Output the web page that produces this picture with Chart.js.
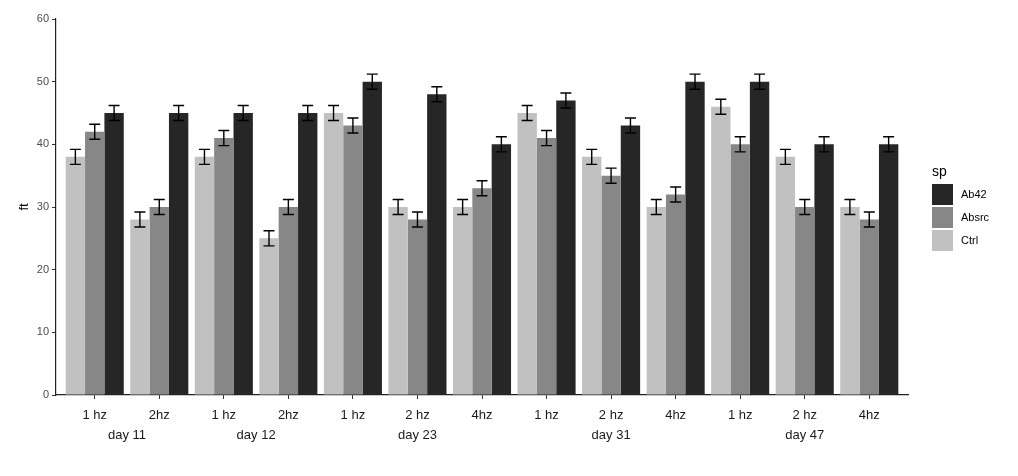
<!DOCTYPE html>
<html>
<head>
<meta charset="utf-8">
<script src="https://cdn.jsdelivr.net/npm/chart.js@4/dist/chart.umd.min.js"></script>
<style>
  html, body { margin: 0; padding: 0; background: #fff; }
  #wrap { width: 1018px; height: 476px; }
</style>
</head>
<body>
<div id="wrap"><canvas id="myChart" width="1018" height="476"></canvas></div>
<script>
// categories (frequency) and their day group
const freqLabels = ["1 hz", "2hz", "1 hz", "2hz", "1 hz", "2 hz", "4hz", "1 hz", "2 hz", "4hz", "1 hz", "2 hz", "4hz"];
const dayLabels = ["day 11", "day 11", "day 12", "day 12", "day 23", "day 23", "day 23",
                   "day 31", "day 31", "day 31", "day 47", "day 47", "day 47"];

// series values
const ctrlValues  = [38, 28, 38, 25, 45, 30, 30, 45, 38, 30, 46, 38, 30];
const absrcValues = [42, 30, 41, 30, 43, 28, 33, 41, 35, 32, 40, 30, 28];
const ab42Values  = [45, 45, 45, 45, 50, 48, 40, 47, 43, 50, 50, 40, 40];

// error (+/-)
const ctrlErr  = [1.2, 1.2, 1.2, 1.2, 1.2, 1.2, 1.2, 1.2, 1.2, 1.2, 1.2, 1.2, 1.2];
const absrcErr = [1.2, 1.2, 1.2, 1.2, 1.2, 1.2, 1.2, 1.2, 1.2, 1.2, 1.2, 1.2, 1.2];
const ab42Err  = [1.2, 1.2, 1.2, 1.2, 1.2, 1.2, 1.2, 1.2, 1.2, 1.2, 1.2, 1.2, 1.2];

const yTicks = [0, 10, 20, 30, 40, 50, 60];

const FONT = "'Liberation Sans', Arial, Helvetica, sans-serif";

function toPoints(values) {
  return values.map((v, i) => ({ x: i + 1, y: v }));
}

// error bars drawn at each bar's centre
const errorBars = {
  id: "errorBars",
  afterDatasetsDraw(chart) {
    const ctx = chart.ctx;
    const y = chart.scales.y;
    ctx.save();
    ctx.strokeStyle = "#000";
    ctx.lineWidth = 1.4;
    chart.data.datasets.forEach((ds, di) => {
      const meta = chart.getDatasetMeta(di);
      meta.data.forEach((bar, j) => {
        const v = ds.data[j].y;
        const e = ds.errors[j];
        const top = y.getPixelForValue(v + e);
        const bot = y.getPixelForValue(v - e);
        const cx = bar.x;
        ctx.beginPath();
        ctx.moveTo(cx, top); ctx.lineTo(cx, bot);
        ctx.moveTo(cx - 5.5, top); ctx.lineTo(cx + 5.5, top);
        ctx.moveTo(cx - 5.5, bot); ctx.lineTo(cx + 5.5, bot);
        ctx.stroke();
      });
    });
    ctx.restore();
  },
};

// second row of x labels (day), centred under its categories
const dayRow = {
  id: "dayRow",
  afterDraw(chart) {
    const ctx = chart.ctx;
    const x = chart.scales.x;
    ctx.save();
    ctx.font = "13px " + FONT;
    ctx.fillStyle = "#1a1a1a";
    ctx.textAlign = "center";
    ctx.textBaseline = "middle";
    let start = 0;
    for (let i = 1; i <= dayLabels.length; i++) {
      if (i === dayLabels.length || dayLabels[i] !== dayLabels[start]) {
        const x0 = x.getPixelForValue(start + 1);
        const x1 = x.getPixelForValue(i);
        ctx.fillText(dayLabels[start], (x0 + x1) / 2, chart.chartArea.bottom + 40);
        start = i;
      }
    }
    ctx.restore();
  },
};

// ggplot style legend on the right
const sideLegend = {
  id: "sideLegend",
  afterDraw(chart) {
    const ctx = chart.ctx;
    const left = chart.chartArea.right + 24;
    ctx.save();
    ctx.font = "14px " + FONT;
    ctx.fillStyle = "#000";
    ctx.textBaseline = "middle";
    ctx.fillText("sp", left, 172);
    const items = chart.data.datasets.slice().reverse();
    items.forEach((ds, k) => {
      const top = 184 + k * 23;
      ctx.fillStyle = ds.backgroundColor;
      ctx.fillRect(left, top, 21, 21);
      ctx.fillStyle = "#000";
      ctx.font = "11px " + FONT;
      ctx.fillText(ds.label, left + 29, top + 11);
    });
    ctx.restore();
  },
};

const ctx = document.getElementById("myChart").getContext("2d");
const myChart = new Chart(ctx, {
  type: "bar",
  data: {
    datasets: [
      { label: "Ctrl", data: toPoints(ctrlValues), errors: ctrlErr, backgroundColor: "#c1c1c1" },
      { label: "Absrc", data: toPoints(absrcValues), errors: absrcErr, backgroundColor: "#878787" },
      { label: "Ab42", data: toPoints(ab42Values), errors: ab42Err, backgroundColor: "#262626" },
    ],
  },
  plugins: [errorBars, dayRow, sideLegend],
  options: {
    responsive: false,
    animation: false,
    layout: { padding: { top: 19, right: 110, left: 0, bottom: 0 } },
    datasets: {
      bar: { categoryPercentage: 0.9, barPercentage: 1.0, borderWidth: 0 },
    },
    scales: {
      x: {
        type: "linear",
        min: 0.4,
        max: 13.6,
        offset: false,
        grid: { drawOnChartArea: false, tickLength: 4, color: "#333", offset: false },
        border: { color: "#222", width: 1.2 },
        afterBuildTicks: (scale) => {
          scale.ticks = freqLabels.map((_, i) => ({ value: i + 1 }));
        },
        afterFit: (scale) => { scale.height = 81; },
        ticks: {
          autoSkip: false,
          maxRotation: 0,
          padding: 9,
          color: "#1a1a1a",
          font: { family: FONT, size: 13 },
          callback: (value) => freqLabels[value - 1],
        },
      },
      y: {
        min: 0,
        max: 60,
        grid: { drawOnChartArea: false, tickLength: 4, color: "#333" },
        border: { color: "#222", width: 1.2 },
        afterBuildTicks: (scale) => {
          scale.ticks = yTicks.map((v) => ({ value: v }));
        },
        afterFit: (scale) => { scale.width = 56; },
        ticks: {
          padding: 3,
          color: "#4d4d4d",
          font: { family: FONT, size: 11 },
        },
        title: {
          display: true,
          text: "ft",
          color: "#000",
          padding: { top: 17, bottom: 0 },
          font: { family: FONT, size: 13 },
        },
      },
    },
    plugins: {
      legend: { display: false },
      tooltip: { enabled: false },
    },
  },
});
</script>
</body>
</html>
